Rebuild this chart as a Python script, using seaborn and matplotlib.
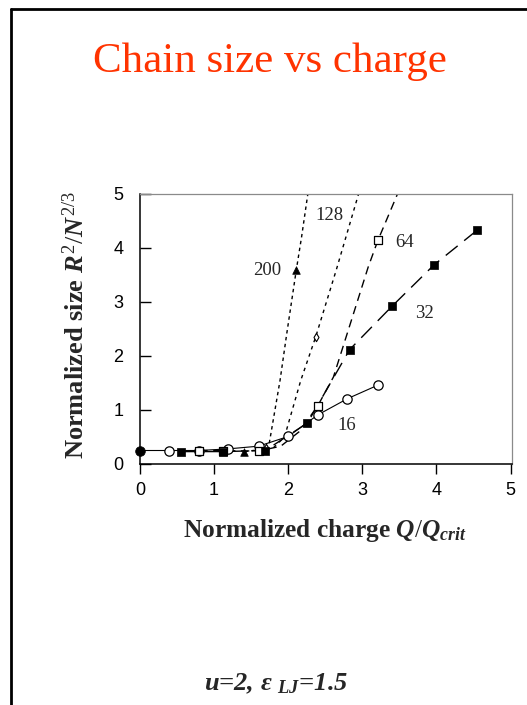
import matplotlib
matplotlib.use("Agg")
import matplotlib.pyplot as plt
import seaborn as sns
from matplotlib.lines import Line2D

# ---------------- data ----------------
start_x = [0.0]
start_y = [0.25]

n16_x = [0.0, 0.39, 0.80, 1.19, 1.60, 2.00, 2.40, 2.80, 3.21]
n16_y = [0.25, 0.25, 0.25, 0.28, 0.33, 0.51, 0.91, 1.21, 1.46]

n32_x = [0.55, 1.12, 1.69, 2.26, 2.83, 3.40, 3.97, 4.55]
n32_y = [0.23, 0.23, 0.25, 0.76, 2.12, 2.92, 3.69, 4.33]

n64_x = [0.80, 1.12, 1.60, 2.40, 3.21]
n64_y = [0.25, 0.24, 0.24, 1.08, 4.14]
n64_curve_x = [0.80, 1.60, 1.90, 2.15, 2.40, 2.61, 2.88, 3.08, 3.21, 3.49]
n64_curve_y = [0.25, 0.24, 0.33, 0.60, 1.08, 1.61, 2.78, 3.65, 4.14, 5.05]

n128_x = [1.70, 2.37]
n128_y = [0.30, 2.35]
n128_curve_x = [1.60, 1.80, 1.95, 2.17, 2.37, 2.65, 2.96]
n128_curve_y = [0.25, 0.30, 0.50, 1.55, 2.35, 3.60, 5.05]

n200_x = [1.41, 2.11]
n200_y = [0.23, 3.60]
n200_curve_x = [1.41, 1.65, 1.74, 1.89, 1.98, 2.11, 2.18, 2.27]
n200_curve_y = [0.23, 0.27, 0.35, 1.55, 2.41, 3.60, 4.20, 5.05]

labels = ["200", "128", "64", "32", "16"]
label_x = [1.71, 2.56, 3.57, 3.84, 2.79]
label_y = [3.58, 4.60, 4.10, 2.78, 0.72]

xticks = [0, 1, 2, 3, 4, 5]
yticks = [0, 1, 2, 3, 4, 5]

# ---------------- style ----------------
sns.set_style("ticks")
plt.rcParams["font.family"] = ["Liberation Serif", "DejaVu Serif"]
plt.rcParams["mathtext.fontset"] = "custom"
plt.rcParams["mathtext.rm"] = "Liberation Serif"
plt.rcParams["mathtext.it"] = "Liberation Serif:italic:bold"
plt.rcParams["mathtext.bf"] = "Liberation Serif:bold"

fig = plt.figure(figsize=(5.27, 7.05), dpi=100)
ax = fig.add_axes([140 / 527, 1 - 464 / 705, 372 / 527, 270 / 705])

# lines
sns.lineplot(x=n16_x, y=n16_y, ax=ax, color="black", lw=0.8, sort=False,
             estimator=None, linestyle="-")
sns.lineplot(x=n32_x, y=n32_y, ax=ax, color="black", lw=1.0, sort=False,
             estimator=None, linestyle=(0, (11, 6)))
sns.lineplot(x=n64_curve_x, y=n64_curve_y, ax=ax, color="black", lw=1.0, sort=False,
             estimator=None, linestyle=(0, (6, 4)))
sns.lineplot(x=n128_curve_x, y=n128_curve_y, ax=ax, color="black", lw=1.0, sort=False,
             estimator=None, linestyle=(0, (2.5, 3)))
sns.lineplot(x=n200_curve_x, y=n200_curve_y, ax=ax, color="black", lw=1.0, sort=False,
             estimator=None, linestyle=(0, (2.5, 2.5)))

# markers
sns.scatterplot(x=n16_x[1:], y=n16_y[1:], ax=ax, marker="o", s=45, facecolor="white",
                edgecolor="black", linewidth=0.9, zorder=5)
sns.scatterplot(x=n32_x, y=n32_y, ax=ax, marker="s", s=40, color="black",
                edgecolor="black", linewidth=0.5, zorder=6)
sns.scatterplot(x=n64_x, y=n64_y, ax=ax, marker="s", s=28, facecolor="white",
                edgecolor="black", linewidth=0.9, zorder=5)
sns.scatterplot(x=n128_x, y=n128_y, ax=ax, marker="d", s=18, facecolor="white",
                edgecolor="black", linewidth=0.8, zorder=5)
sns.scatterplot(x=n200_x, y=n200_y, ax=ax, marker="^", s=30, color="black",
                edgecolor="black", linewidth=0.5, zorder=6)
sns.scatterplot(x=start_x, y=start_y, ax=ax, marker="o", s=48, color="black",
                edgecolor="black", zorder=7, clip_on=False)

for t, x, y in zip(labels, label_x, label_y):
    ax.text(x, y, t, fontsize=13.5, ha="center", va="center", family="Liberation Serif")

ax.set_xlim(0, 5.02)
ax.set_ylim(0, 5)
ax.set_xticks(xticks)
ax.set_yticks(yticks)
ax.set_xticklabels([str(v) for v in xticks], family="Liberation Sans", fontsize=13)
ax.set_yticklabels([str(v) for v in yticks], family="Liberation Sans", fontsize=13)
ax.tick_params(axis="x", direction="out", length=7, width=1, pad=6, colors="black")
ax.tick_params(axis="y", direction="in", length=8, width=1, pad=12, colors="black")
for s in ["left", "bottom"]:
    ax.spines[s].set_color("black")
    ax.spines[s].set_linewidth(1.1)
for s in ["top", "right"]:
    ax.spines[s].set_visible(True)
    ax.spines[s].set_color("#8a8a8a")
    ax.spines[s].set_linewidth(0.9)
ax.set_xlabel("")
ax.set_ylabel("")

# texts
fig.text(270 / 527, 1 - 62 / 705, "Chain size vs charge", color="#ff3300",
         fontsize=31, ha="center", va="center", family="Liberation Serif")
fig.text(325 / 527, 1 - 530 / 705, r"Normalized charge $Q/Q_{crit}$",
         fontsize=18.3, fontweight="bold", ha="center", va="center")
fig.text(76 / 527, 1 - 325 / 705, r"Normalized size $R^{2}/N^{2/3}$",
         fontsize=19, fontweight="bold", ha="center", va="center", rotation=90)
fig.text(276 / 527, 1 - 684 / 705, r"$u$=2, ε $_{LJ}$=1.5",
         fontsize=19, fontweight="bold", fontstyle="italic", ha="center", va="center")

# page frame (left and top edges)
fig.add_artist(Line2D([11 / 527, 11 / 527], [0, 1 - 9 / 705], color="black", lw=2.0,
                      transform=fig.transFigure))
fig.add_artist(Line2D([11 / 527, 1], [1 - 9 / 705, 1 - 9 / 705], color="black", lw=2.0,
                      transform=fig.transFigure))

fig.savefig("out.png", dpi=100)
